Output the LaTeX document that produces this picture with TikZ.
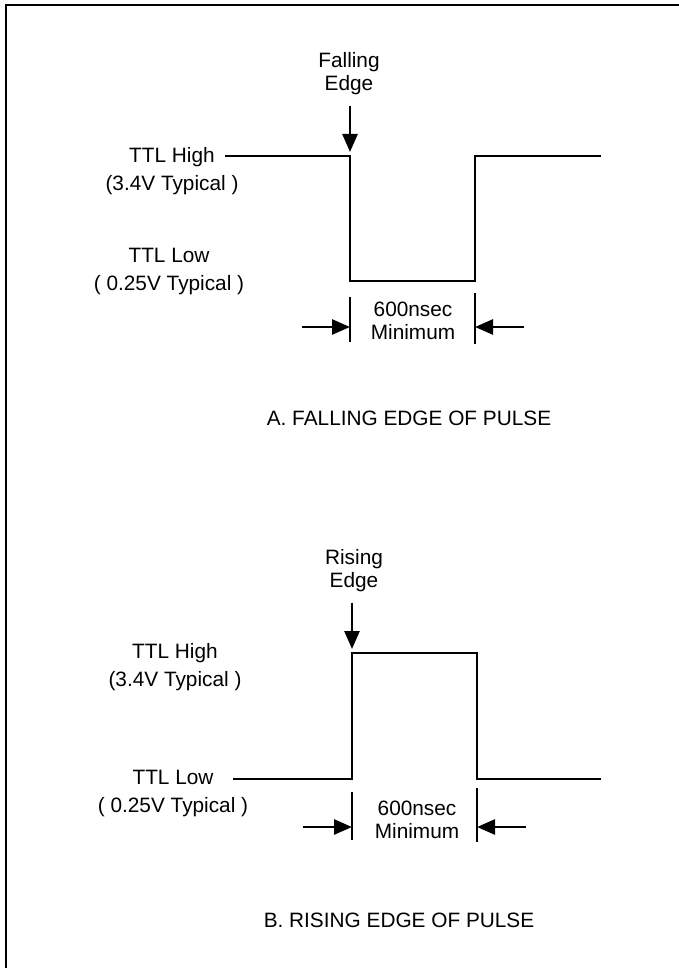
\documentclass[tikz,border=0pt]{standalone}
\usepackage{fontspec}
\setmainfont{Liberation Sans}
\usetikzlibrary{arrows.meta}

\begin{document}
\begin{tikzpicture}[
      x=0.5pt, y=-0.5pt,
      >={Triangle[length=9pt,width=7.5pt]},
      wave/.style={line width=1.4pt, line join=miter},
      dim/.style={line width=1.3pt},
      lbl/.style={align=center, inner sep=1pt, font=\fontsize{10.4}{11.5}\selectfont},
      lvl/.style={align=center, inner sep=1pt, font=\fontsize{10.4}{14}\selectfont},
      ttl/.style={inner sep=1pt, font=\fontsize{10.4}{12}\selectfont}
    ]
    \useasboundingbox (0,0) rectangle (679,968);

    % Marco
    \draw[line width=1.2pt] (679,5) -- (6,5) -- (6,968);

    % A: flanco de bajada
    \coordinate (a0) at (225,156);
    \coordinate (a1) at (350,156);
    \coordinate (a2) at (350,281);
    \coordinate (a3) at (475,281);
    \coordinate (a4) at (475,156);
    \coordinate (a5) at (601,156);
    \draw[wave] (a0) -- (a1) -- (a2) -- (a3) -- (a4) -- (a5);

    \node[lbl] (fallA) at (349,74) {Falling\\Edge};
    \draw[->, dim, shorten <=4pt] (fallA.south -| a1) -- ([yshift=2pt]a1);

    \node[lvl] (highA) at (172,171) {TTL High\\(3.4V Typical )};
    \node[lvl] (lowA) at (169,272) {TTL Low\\( 0.25V Typical )};

    % Ancho del pulso A
    \draw[dim] (350,297) -- (350,342);
    \draw[dim] (475,293) -- (475,344);
    \coordinate (pa0) at (302,327);
    \coordinate (pa1) at (350,327);
    \coordinate (pa2) at (524,327);
    \coordinate (pa3) at (475,327);
    \draw[->, dim] (pa0) -- (pa1);
    \draw[->, dim] (pa2) -- (pa3);
    \node[lbl] (widthA) at (413,321) {600nsec\\Minimum};

    \node[ttl] (titleA) at (409,418) {A. FALLING EDGE OF PULSE};

    % B: flanco de subida
    \coordinate (b0) at (233,779);
    \coordinate (b1) at (352,779);
    \coordinate (b2) at (352,653);
    \coordinate (b3) at (477,653);
    \coordinate (b4) at (477,779);
    \coordinate (b5) at (601,779);
    \draw[wave] (b0) -- (b1) -- (b2) -- (b3) -- (b4) -- (b5);

    \node[lbl] (riseB) at (354,571) {Rising\\Edge};
    \draw[->, dim, shorten <=4pt] (riseB.south -| b2) -- ([yshift=2pt]b2);

    \node[lvl] (highB) at (175,667) {TTL High\\(3.4V Typical )};
    \node[lvl] (lowB) at (173,793) {TTL Low\\( 0.25V Typical )};

    % Ancho del pulso B
    \draw[dim] (352,792) -- (352,840);
    \draw[dim] (477,788) -- (477,842);
    \coordinate (pb0) at (303,827);
    \coordinate (pb1) at (352,827);
    \coordinate (pb2) at (526,827);
    \coordinate (pb3) at (477,827);
    \draw[->, dim] (pb0) -- (pb1);
    \draw[->, dim] (pb2) -- (pb3);
    \node[lbl] (widthB) at (417,820) {600nsec\\Minimum};

    \node[ttl] (titleB) at (399,920) {B. RISING EDGE OF PULSE};

  \end{tikzpicture}
\end{document}
